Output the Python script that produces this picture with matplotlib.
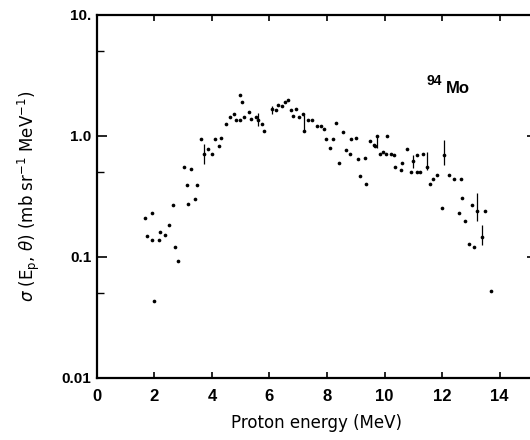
import matplotlib
matplotlib.use("Agg")
import matplotlib.pyplot as plt
import numpy as np

plt.rcParams['font.family'] = ['Liberation Sans', 'DejaVu Sans']

# Data (proton energy in MeV, cross-section in mb sr^-1 MeV^-1)
energy = [1.67, 1.93, 1.74, 1.90, 2.14, 2.19, 2.37, 2.49, 2.66, 2.72, 2.81, 1.97,
          3.01, 3.28, 3.16, 3.42, 3.13, 3.48, 3.63, 3.71, 3.86, 4.00, 4.10, 4.24,
          4.33, 4.49, 4.61, 4.76, 4.84, 4.99, 5.03, 4.96, 5.11, 5.28, 5.34, 5.52,
          5.61, 5.73, 5.81, 6.10, 6.22, 6.28, 6.43, 6.55, 6.66, 6.74, 6.92, 6.82,
          7.04, 7.15, 7.21, 7.33, 7.48, 7.64, 7.80, 7.91, 7.95, 8.09, 8.20, 8.32,
          8.41, 8.55, 8.65, 8.79, 8.85, 9.00, 9.08, 9.16, 9.31, 9.37, 9.49, 9.62,
          9.66, 9.74, 9.84, 10.07, 9.95, 10.05, 10.22, 10.36, 10.33, 10.56, 10.62,
          10.79, 10.91, 10.98, 11.12, 11.24, 11.12, 11.35, 11.49, 11.59, 11.68,
          11.82, 11.99, 12.08, 12.23, 12.41, 12.66, 12.58, 12.70, 12.81, 12.93,
          13.10, 13.05, 13.22, 13.40, 13.48, 13.71]
sigma = [0.21, 0.23, 0.15, 0.138, 0.138, 0.161, 0.153, 0.183, 0.27, 0.121, 0.092, 0.043,
         0.55, 0.53, 0.275, 0.30, 0.39, 0.39, 0.94, 0.71, 0.78, 0.71, 0.94, 0.82,
         0.97, 1.26, 1.43, 1.52, 1.35, 2.16, 1.90, 1.35, 1.43, 1.57, 1.38, 1.43,
         1.36, 1.25, 1.09, 1.68, 1.63, 1.80, 1.76, 1.90, 1.97, 1.63, 1.68, 1.47,
         1.43, 1.52, 1.10, 1.35, 1.36, 1.20, 1.20, 1.14, 0.95, 0.80, 0.94, 1.27,
         0.60, 1.07, 0.76, 0.71, 0.94, 0.97, 0.64, 0.47, 0.66, 0.40, 0.90, 0.84,
         0.82, 1.00, 0.71, 1.00, 0.73, 0.71, 0.71, 0.55, 0.70, 0.52, 0.60,
         0.78, 0.50, 0.62, 0.50, 0.50, 0.70, 0.71, 0.55, 0.40, 0.44,
         0.48, 0.255, 0.70, 0.48, 0.44, 0.44, 0.23, 0.31, 0.20, 0.129,
         0.12, 0.27, 0.24, 0.145, 0.24, 0.052]

# A few points carry vertical error bars
err_energy = [3.71, 5.61, 6.10, 7.21, 9.74, 10.98, 11.49, 12.08, 13.22, 13.40]
err_sigma = [0.71, 1.36, 1.63, 1.30, 0.90, 0.62, 0.62, 0.70, 0.24, 0.145]
err_low = [0.12, 0.15, 0.12, 0.18, 0.10, 0.08, 0.10, 0.12, 0.04, 0.02]
err_high = [0.15, 0.18, 0.15, 0.20, 0.10, 0.08, 0.12, 0.22, 0.10, 0.04]

x_ticks = [0, 2, 4, 6, 8, 10, 12, 14]
y_ticks = [0.01, 0.1, 1.0, 10.0]
y_labels = ['0.01', '0.1', '1.0', '10.']

fig = plt.figure(figsize=(5.3, 4.4), dpi=100)
ax = fig.add_axes([0.183, 0.141, 0.83, 0.825])

ax.scatter(energy, sigma, s=7, color='black', marker='o', linewidths=0, zorder=3)
ax.errorbar(err_energy, err_sigma, yerr=[err_low, err_high], fmt='none',
            ecolor='black', elinewidth=0.9, capsize=0, zorder=2)

ax.set_yscale('log')
ax.set_xlim(0, 15.3)
ax.set_ylim(0.01, 10)

ax.set_xticks(x_ticks)
ax.set_xticklabels([str(t) for t in x_ticks], fontsize=12, fontweight='bold')
ax.set_yticks(y_ticks)
ax.set_yticklabels(y_labels, fontsize=11, fontweight='bold')
ax.yaxis.set_minor_locator(matplotlib.ticker.FixedLocator([0.05, 0.5, 5]))
ax.yaxis.set_minor_formatter(matplotlib.ticker.NullFormatter())
ax.xaxis.set_minor_locator(matplotlib.ticker.NullLocator())

ax.tick_params(axis='both', which='major', direction='in', length=7, width=1.2,
               top=True, right=True, pad=4)
ax.tick_params(axis='y', which='minor', direction='in', length=5, width=1.0,
               left=True, right=True)
ax.tick_params(axis='x', which='major', length=4, pad=8)

for side in ['left', 'bottom', 'top']:
    ax.spines[side].set_linewidth(1.6)
ax.spines['right'].set_linewidth(1.0)

ax.set_xlabel('Proton energy (MeV)', fontsize=12, labelpad=7,
              family=['DejaVu Sans'])
ax.set_ylabel(r'$\sigma$ (E$_\mathregular{p}$, $\theta$) (mb sr$^{-1}$ MeV$^{-1}$)',
              fontsize=12, labelpad=14, family=['DejaVu Sans'])

ax.text(11.46, 2.63, '94', fontsize=10, fontweight='bold', ha='left', va='baseline')
ax.text(12.15, 2.27, 'Mo', fontsize=12, fontweight='bold', ha='left', va='baseline')

fig.savefig('out.png', dpi=100)
